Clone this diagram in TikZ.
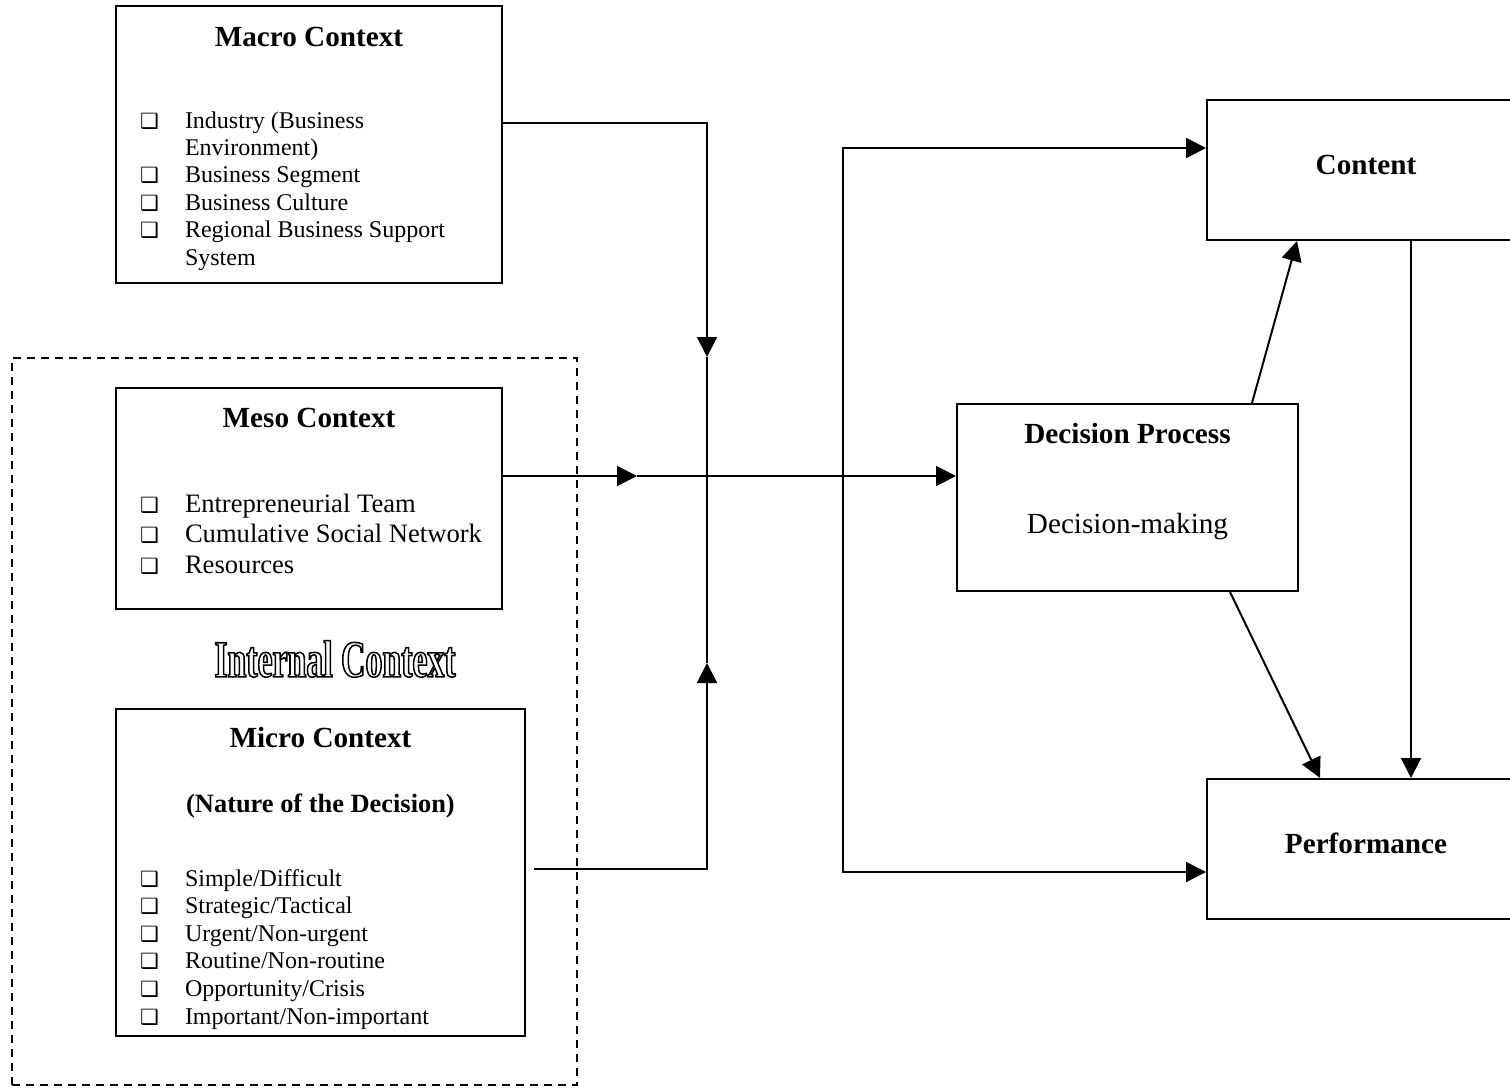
\documentclass[tikz,border=0pt]{standalone}
\usepackage{fontspec}
\setmainfont{Liberation Serif}
\newfontfamily\boxfont{DejaVu Sans}
\newfontfamily\outlinefont[FakeStretch=0.65]{Liberation Serif}
\usetikzlibrary{arrows.meta}

% list bullets and hanging lines
\newcommand{\sqb}{\makebox[22.5pt][l]{\boxfont\fontsize{10.5}{10}\selectfont ❑}}
\newcommand{\sqi}{\hspace*{22.5pt}}
% hollow letters (text render mode 1)
\newcommand{\hollow}[1]{\special{pdf:literal direct 1 Tr 0.75 w}#1\special{pdf:literal direct 0 Tr}}

\begin{document}
\begin{tikzpicture}[x=0.5pt, y=-0.5pt, line width=1pt,
    box/.style ={draw, inner sep=0pt},
    title/.style={anchor=base, inner sep=0pt, font=\fontsize{14.6}{17}\selectfont\bfseries},
    item/.style ={anchor=base west, inner sep=0pt, font=\fontsize{12}{14}\selectfont},
    flow/.style ={-{Triangle[length=10pt,width=10pt]}},
  ]
  \useasboundingbox (0,0) rectangle (1510,1087);

  % Macro context
  \node[box, minimum width=193pt, minimum height=138.5pt] (macro) at (309,144.5) {};
  \node[title] (macro-t) at (309,46) {Macro Context};
  \foreach \t [count=\i from 0] in {{\sqb Industry (Business},{\sqi Environment)},{\sqb Business Segment},
      {\sqb Business Culture},{\sqb Regional Business Support},{\sqi System}}
    \node[item] (macro-\i) at (139,128+27.4*\i) {\t};

  % Internal context (dashed frame)
  \node[box, dashed, dash pattern=on 4pt off 3pt, minimum width=282.5pt, minimum height=363.5pt] (internal) at (294.5,721.5) {};
  \node[inner sep=0pt] (internal-t) at (335,659)
    {\outlinefont\bfseries\fontsize{26}{26}\selectfont\hollow{Internal Context}};

  % Meso context
  \node[box, minimum width=193pt, minimum height=110.5pt] (meso) at (309,498.5) {};
  \node[title] (meso-t) at (309,427) {Meso Context};
  \foreach \t [count=\i from 0] in {Entrepreneurial Team,Cumulative Social Network,Resources}
    \node[item, font=\fontsize{13.3}{15}\selectfont] (meso-\i) at (139,512+30.5*\i) {\sqb\t};

  % Micro context
  \node[box, minimum width=204.5pt, minimum height=163.5pt] (micro) at (320.5,872.5) {};
  \node[title] (micro-t) at (320.5,747) {Micro Context};
  \node[title, font=\fontsize{13.2}{16}\selectfont\bfseries] (micro-s) at (320.5,812) {(Nature of the Decision)};
  \foreach \t [count=\i from 0] in {Simple/Difficult,Strategic/Tactical,Urgent/Non-urgent,
      Routine/Non-routine,Opportunity/Crisis,Important/Non-important}
    \node[item] (micro-\i) at (139,886+27.6*\i) {\sqb\t};

  % Decision process, content, performance
  \node[box, minimum width=170.5pt, minimum height=93.5pt] (dec) at (1127.5,497.5) {};
  \node[title] (dec-t) at (1127.5,443) {Decision Process};
  \node[title, font=\fontsize{14.6}{17}\selectfont] (dec-s) at (1127.5,533) {Decision-making};
  \node[box, minimum width=159pt, minimum height=70pt] (content) at (1366,170) {};
  \node[title] (content-t) at (1366,174) {Content};
  \node[box, minimum width=159pt, minimum height=70pt] (perf) at (1366,849) {};
  \node[title] (perf-t) at (1366,853) {Performance};

  % junctions
  \coordinate (hub) at (707,476);
  \coordinate (rail) at (843,476);

  % feeds into the hub
  \draw[flow] (macro.east |- 0,123) -| (707,357);
  \draw (707,357) -- (hub);
  \draw[flow] ([xshift=4pt]micro.east |- 0,869) -| (707,663);
  \draw (707,663) -- (hub);
  \draw[flow] (meso.east |- hub) -- (637,476);
  \draw[flow] (637,476) -- (dec.west |- hub);

  % rail to content and performance
  \draw[flow] (rail) |- (content.west |- 0,148);
  \draw[flow] (rail) |- (perf.west |- 0,872);

  % process links
  \draw[flow] ([xshift=62.25pt]dec.north) -- ([xshift=45.5pt]content.south west);
  \draw[flow] ([xshift=51.25pt]dec.south) -- ([xshift=57pt]perf.north west);
  \draw[flow] ([xshift=22.5pt]content.south) -- ([xshift=22.5pt]perf.north);
\end{tikzpicture}
\end{document}
